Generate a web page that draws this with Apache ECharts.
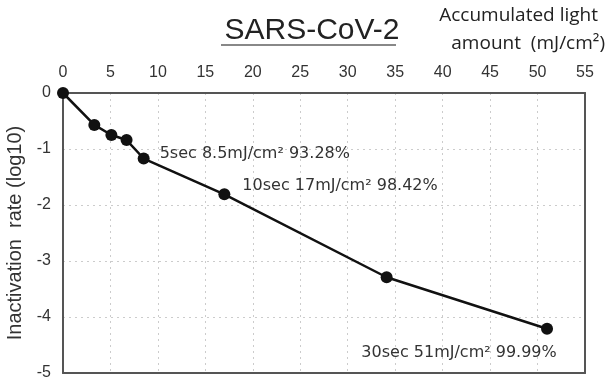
<!DOCTYPE html>
<html><head><meta charset="utf-8">
<script src="https://cdn.jsdelivr.net/npm/echarts@6/dist/echarts.min.js"></script>
<style>html,body{margin:0;padding:0;background:#fff}#c{width:612px;height:381px}</style>
</head><body><div id="c"></div>
<script>
const dose = [0, 3.3, 5.1, 6.7, 8.5, 17, 34.1, 51];
const inactivation = [0, -0.57, -0.75, -0.84, -1.17, -1.81, -3.29, -4.21];
const annotations = ['', '', '', '', '5sec 8.5mJ/cm² 93.28%', '10sec 17mJ/cm² 98.42%', '', '30sec 51mJ/cm² 99.99%'];
const xTicks = [0, 5, 10, 15, 20, 25, 30, 35, 40, 45, 50, 55];
const yTicks = [0, -1, -2, -3, -4, -5];

const font = 'Liberation Sans, Arial, sans-serif';
const wide = 'DejaVu Sans, sans-serif';
const labelCfg = {
  4: {position: 'right', distance: 10, offset: [0, -5]},
  5: {position: 'right', distance: 12, offset: [0, -9]},
  7: {position: 'bottom', distance: 10, offset: [-88, 0]}
};
const data = dose.map((x, i) => {
  const d = {value: [x, inactivation[i]]};
  if (annotations[i]) {
    d.label = Object.assign({show: true, formatter: annotations[i]}, labelCfg[i]);
  }
  return d;
});

const lineClr = '#555';
const grid = {color: '#ccc', type: [2, 4], width: 1};
const chart = echarts.init(document.getElementById('c'));
chart.setOption({
  animation: false,
  title: {
    text: 'SARS-CoV-2', left: 307, top: 11, textAlign: 'center',
    textStyle: {fontFamily: font, fontSize: 30, fontWeight: 'normal', color: '#222'}
  },
  graphic: [
    {type: 'line', shape: {x1: 221, y1: 45, x2: 396, y2: 45}, style: {stroke: '#888', lineWidth: 2}},
    {type: 'text', right: 14, top: 6, style: {text: 'Accumulated light', font: '19px Open Sans, sans-serif', fill: '#222'}},
    {type: 'text', right: 7, top: 34, style: {text: 'amount  (mJ/cm²)', font: '19px Open Sans, sans-serif', fill: '#222'}}
  ],
  grid: {left: 63, right: 27, top: 93, bottom: 8, containLabel: false, outerBoundsMode: 'none'},
  xAxis: [{
    type: 'value', position: 'top', min: 0, max: 55, interval: 5,
    axisLine: {show: true, lineStyle: {color: lineClr, width: 2}},
    axisTick: {show: false},
    axisLabel: {color: '#333', fontFamily: font, fontSize: 16, margin: 12,
      formatter: v => xTicks.includes(v) ? String(v) : ''},
    splitLine: {show: true, lineStyle: grid}
  }, {
    type: 'value', position: 'bottom', min: 0, max: 55, interval: 5,
    axisLine: {show: true, onZero: false, lineStyle: {color: lineClr, width: 2}},
    axisTick: {show: false}, axisLabel: {show: false}, splitLine: {show: false}
  }],
  yAxis: [{
    type: 'value', min: -5, max: 0, interval: 1,
    name: 'Inactivation  rate (log10)', nameLocation: 'middle', nameGap: 38, nameRotate: 90,
    nameTextStyle: {color: '#333', fontFamily: font, fontSize: 20},
    axisLine: {show: true, lineStyle: {color: lineClr, width: 2}},
    axisTick: {show: false},
    axisLabel: {color: '#333', fontFamily: font, fontSize: 16, margin: 12,
      formatter: v => yTicks.includes(v) ? String(v) : ''},
    splitLine: {show: true, lineStyle: grid}
  }, {
    type: 'value', position: 'right', min: -5, max: 0, interval: 1,
    axisLine: {show: true, onZero: false, lineStyle: {color: lineClr, width: 2}},
    axisTick: {show: false}, axisLabel: {show: false}, splitLine: {show: false}
  }],
  series: [{
    type: 'line', data: data, xAxisIndex: 0, yAxisIndex: 0,
    symbol: 'circle', symbolSize: 12,
    itemStyle: {color: '#111'},
    lineStyle: {color: '#111', width: 2.5},
    label: {show: false, color: '#333', fontFamily: wide, fontSize: 16}
  }]
});
</script></body></html>
